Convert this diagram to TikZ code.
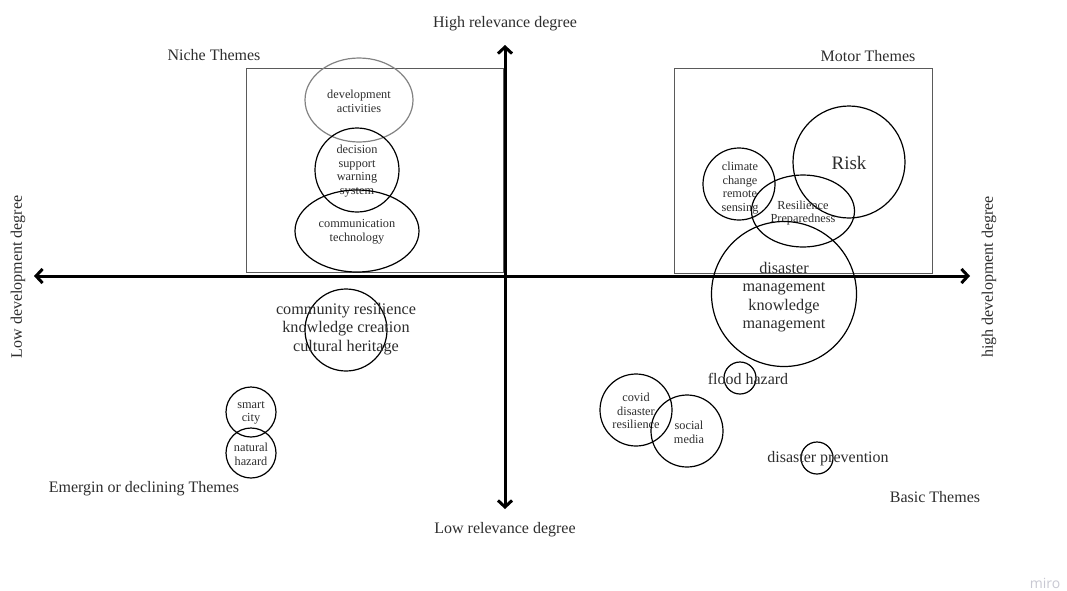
\documentclass[tikz,border=0pt]{standalone}
\usepackage{fontspec}
\setmainfont{Liberation Serif}
\newfontfamily\marksans{Open Sans}
\usetikzlibrary{arrows.meta, shapes.geometric}
\definecolor{inkgrey}{RGB}{45,45,45}
\definecolor{boxgrey}{RGB}{90,90,90}
\definecolor{ovalgrey}{RGB}{130,130,130}
\definecolor{markgrey}{RGB}{200,200,210}

\begin{document}
\begin{tikzpicture}[x=1pt, y=-1pt,
  bub/.style={draw, circle, line width=1.2pt, inner sep=0pt},
  oval/.style={draw, ellipse, line width=1.2pt, inner sep=0pt},
  small/.style={align=center, text=inkgrey, font=\fontsize{12.3}{13.6}\selectfont},
  big/.style={align=center, text=inkgrey, font=\fontsize{16.2}{18.5}\selectfont},
  lbl/.style={text=inkgrey, font=\fontsize{16}{18}\selectfont},
  quad/.style={draw=boxgrey, line width=1.3pt},
  axis/.style={{Straight Barb[length=6.5pt,width=14pt]}-{Straight Barb[length=6.5pt,width=14pt]}, line width=3pt}]
\useasboundingbox (0,0) rectangle (1067,590);

% quadrant boxes
\node[quad, minimum width=257, minimum height=204, anchor=north west] (niche) at (246,68) {};
\node[quad, minimum width=258, minimum height=205, anchor=north west] (motor) at (674,68) {};

% axes
\coordinate (N) at (505,45);
\coordinate (S) at (505,509);
\coordinate (W) at (34,276);
\coordinate (E) at (970,276);
\draw[axis] (S) -- (N);
\draw[axis] (W) -- (E);

% axis and quadrant labels
\node[lbl] (high) at (505,24) {High relevance degree};
\node[lbl] (low) at (505,530) {Low relevance degree};
\node[lbl, rotate=90] (lowdev) at (18,277) {Low development degree};
\node[lbl, rotate=90] (highdev) at (989,277) {high development degree};
\node[lbl] (nicheT) at (214,55) {Niche Themes};
\node[lbl] (motorT) at (868,56) {Motor Themes};
\node[lbl] (emergT) at (144,489) {Emergin or declining Themes};
\node[lbl] (basicT) at (935,497) {Basic Themes};

% niche themes
\node[oval, draw=ovalgrey, minimum width=108, minimum height=84] (devact) at (359,100) {};
\node[small] at (359,101) {development\\activities};
\node[bub, minimum size=84] (dss) at (357,170) {};
\node[small] at (357,171) {decision\\support\\warning\\system};
\node[oval, minimum width=124, minimum height=82] (comm) at (357,231) {};
\node[small] at (357,232) {communication\\technology};

% motor themes
\node[bub, minimum size=72] (climate) at (739,184) {};
\node[small] at (740,188) {climate\\change\\remote\\sensing};
\node[bub, minimum size=112] (risk) at (849,162) {};
\node[text=inkgrey, font=\fontsize{19}{21}\selectfont] at (849,163) {Risk};
\node[oval, minimum width=103, minimum height=72] (resil) at (803,211) {};
\node[small] at (803,213) {Resilience\\Preparedness};
\node[bub, minimum size=145] (dmkm) at (784,294) {};
\node[big] at (784,297) {disaster\\management\\knowledge\\management};

% basic themes
\node[bub, minimum size=32] (flood) at (740,378) {};
\node[lbl] at (748,379) {flood hazard};
\node[bub, minimum size=72] (covid) at (636,410) {};
\node[small] at (636,411) {covid\\disaster\\resilience};
\node[bub, minimum size=72] (social) at (687,431) {};
\node[small] at (689,432) {social\\media};
\node[bub, minimum size=32] (prev) at (817,458) {};
\node[lbl] at (828,459) {disaster prevention};

% emerging or declining themes
\node[bub, minimum size=82] (crkc) at (346,330) {};
\node[big] at (346,329) {community resilience\\knowledge creation\\cultural heritage};
\node[bub, minimum size=50] (smart) at (251,412) {};
\node[small] at (251,413) {smart\\city};
\node[bub, minimum size=50] (natural) at (251,453) {};
\node[small] at (251,454) {natural\\hazard};

\node[text=markgrey, font=\marksans\fontsize{14}{16}\selectfont] (miro) at (1045,583) {miro};
\end{tikzpicture}
\end{document}
